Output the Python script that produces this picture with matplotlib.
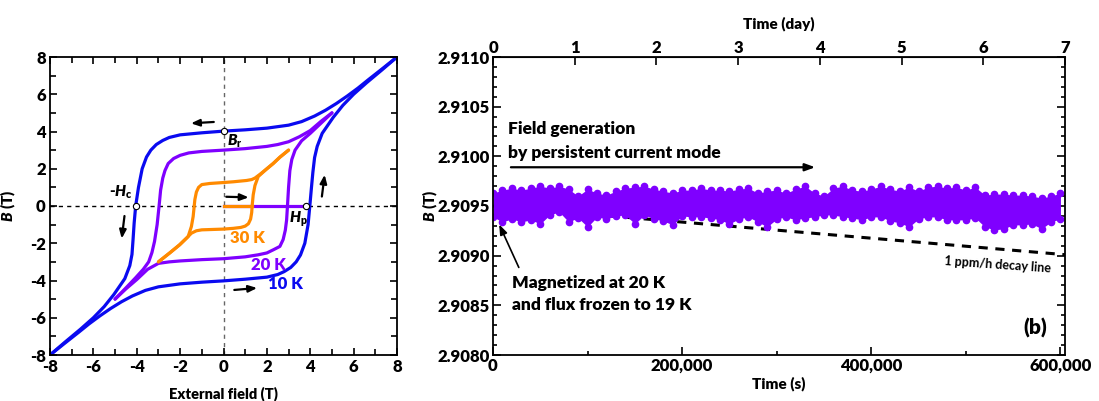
import matplotlib
matplotlib.use('Agg')
import matplotlib.pyplot as plt
from matplotlib.ticker import MultipleLocator, FixedLocator, FuncFormatter, FormatStrFormatter

plt.rcParams['font.family'] = 'Lato'
plt.rcParams['font.weight'] = 'heavy'
plt.rcParams['axes.labelweight'] = 'heavy'
plt.rcParams['axes.unicode_minus'] = False
plt.rcParams['mathtext.fontset'] = 'custom'
plt.rcParams['mathtext.rm'] = 'Lato:heavy'
plt.rcParams['mathtext.it'] = 'Lato:heavy:italic'

BLUE = '#0A0AF0'
PURPLE = '#7F00FF'
ORANGE = '#FF8A00'
W = 'heavy'

# ---- (a) hysteresis loops, B (T) vs external field (T)
blue_desc_H = [8.0, 7.3, 6.7, 6.2, 5.7, 5.2, 4.7, 4.2, 3.6, 3.0, 2.0, 1.0, 0.0, -1.0, -2.0, -2.5,
               -2.8, -3.1, -3.35, -3.55, -3.75, -3.92, -4.05, -4.12, -4.17, -4.22, -4.32, -4.55,
               -5.06, -5.5, -6.0, -6.6, -7.3, -8.0]
blue_desc_B = [8.0, 7.35, 6.8, 6.33, 5.9, 5.5, 5.14, 4.83, 4.53, 4.34, 4.18, 4.09, 4.02, 3.93, 3.82,
               3.68, 3.52, 3.3, 3.0, 2.63, 2.0, 1.0, 0.0, -0.92, -1.8, -2.6, -3.2, -3.9, -4.76,
               -5.4, -6.0, -6.62, -7.3, -8.0]
blue_asc_H = [-8.0, -7.3, -6.7, -6.2, -5.7, -5.2, -4.7, -4.2, -3.6, -3.0, -2.0, -1.0, 0.0, 1.0, 2.0,
              2.5, 2.8, 3.1, 3.35, 3.55, 3.75, 3.9, 3.98, 4.05, 4.12, 4.2, 4.32, 4.55, 5.06, 5.5,
              6.0, 6.6, 7.3, 8.0]
blue_asc_B = [-8.0, -7.35, -6.8, -6.33, -5.9, -5.5, -5.14, -4.83, -4.53, -4.34, -4.18, -4.09, -4.02,
              -3.93, -3.82, -3.68, -3.52, -3.3, -3.0, -2.63, -2.0, -1.0, 0.0, 0.92, 1.8, 2.6, 3.2,
              3.9, 4.76, 5.4, 6.0, 6.62, 7.3, 8.0]

purple_desc_H = [5.0, 4.5, 4.0, 3.5, 3.0, 2.5, 2.0, 1.0, 0.0, -1.0, -1.6, -2.0, -2.3, -2.55, -2.7,
                 -2.8, -2.9, -2.97, -3.06, -3.18, -3.3, -3.45, -3.7, -4.05, -4.5, -5.0]
purple_desc_B = [5.0, 4.55, 4.05, 3.72, 3.45, 3.3, 3.2, 3.08, 3.0, 2.93, 2.85, 2.72, 2.55, 2.28, 1.9,
                 1.5, 0.85, 0.0, -1.0, -1.9, -2.5, -3.0, -3.4, -3.85, -4.4, -5.0]
purple_asc_H = [-5.0, -4.5, -4.0, -3.5, -3.0, -2.5, -2.0, -1.0, 0.0, 1.0, 1.6, 2.0, 2.3, 2.6, 2.75,
                2.85, 2.91, 2.95, 3.0, 3.06, 3.15, 3.3, 3.6, 4.0, 4.5, 5.0]
purple_asc_B = [-5.0, -4.45, -3.95, -3.4, -3.08, -3.0, -2.95, -2.88, -2.83, -2.73, -2.62, -2.52, -2.35,
                -2.17, -1.8, -1.3, -0.75, 0.0, 1.0, 1.9, 2.5, 3.0, 3.5, 3.9, 4.45, 5.0]

orange_desc_H = [3.0, 2.6, 2.29, 2.0, 1.68, 1.45, 1.3, 1.06, 0.45, 0.0, -0.63, -1.0, -1.15, -1.25,
                 -1.32, -1.35, -1.4, -1.48, -1.63, -2.02, -2.48, -3.0]
orange_desc_B = [3.0, 2.62, 2.28, 2.0, 1.7, 1.5, 1.42, 1.37, 1.3, 1.26, 1.21, 1.15, 1.0, 0.75, 0.35,
                 0.0, -0.57, -1.1, -1.64, -2.08, -2.52, -3.0]
orange_asc_H = [-3.0, -2.48, -2.02, -1.7, -1.48, -1.25, -1.0, -0.5, 0.0, 0.45, 0.8, 1.0, 1.15, 1.25,
                1.3, 1.32, 1.37, 1.45, 1.6, 2.0, 2.29, 2.6, 3.0]
orange_asc_B = [-3.0, -2.52, -2.08, -1.72, -1.46, -1.33, -1.28, -1.26, -1.24, -1.2, -1.15, -1.08,
                -0.95, -0.7, -0.35, 0.0, 0.6, 1.1, 1.58, 2.0, 2.28, 2.62, 3.0]

virgin_20K_H = [0.0, 3.8]
virgin_30K_H = [0.0, 1.32]

Br = (0.0, 4.03)
Hc = (-4.05, 0.0)
Hp = (3.8, 0.0)

# ---- (b) persistent field vs time
time_s = [0, 10000, 20000, 30000, 40000, 50000, 60000, 70000, 80000, 90000, 100000, 110000, 120000,
          130000, 140000, 150000, 160000, 170000, 180000, 190000, 200000, 210000, 220000, 230000,
          240000, 250000, 260000, 270000, 280000, 290000, 300000, 310000, 320000, 330000, 340000,
          350000, 360000, 370000, 380000, 390000, 400000, 410000, 420000, 430000, 440000, 450000,
          460000, 470000, 480000, 490000, 500000, 510000, 520000, 530000, 540000, 550000, 560000,
          570000, 580000, 590000, 600000]
field_high = [2.90963, 2.90966, 2.90968, 2.90966, 2.90968, 2.90970, 2.90968, 2.90970, 2.90967, 2.90960,
              2.90967, 2.90963, 2.90961, 2.90965, 2.90968, 2.90969, 2.90970, 2.90967, 2.90965, 2.90963,
              2.90966, 2.90966, 2.90968, 2.90966, 2.90966, 2.90965, 2.90967, 2.90968, 2.90963, 2.90965,
              2.90966, 2.90963, 2.90967, 2.90970, 2.90963, 2.90960, 2.90968, 2.90970, 2.90966, 2.90965,
              2.90967, 2.90970, 2.90967, 2.90965, 2.90969, 2.90965, 2.90969, 2.90970, 2.90968, 2.90969,
              2.90966, 2.90969, 2.90961, 2.90962, 2.90962, 2.90961, 2.90961, 2.90960, 2.90958, 2.90960,
              2.90963]
field_low = [2.90939, 2.90934, 2.90937, 2.90934, 2.90936, 2.90932, 2.90941, 2.90944, 2.90934, 2.90938,
             2.90929, 2.90939, 2.90937, 2.90940, 2.90941, 2.90932, 2.90941, 2.90937, 2.90935, 2.90931,
             2.90940, 2.90939, 2.90939, 2.90938, 2.90936, 2.90932, 2.90937, 2.90939, 2.90934, 2.90929,
             2.90937, 2.90939, 2.90936, 2.90938, 2.90939, 2.90941, 2.90941, 2.90939, 2.90938, 2.90936,
             2.90939, 2.90939, 2.90935, 2.90933, 2.90929, 2.90937, 2.90939, 2.90939, 2.90936, 2.90936,
             2.90936, 2.90938, 2.90929, 2.90926, 2.90927, 2.90931, 2.90931, 2.90932, 2.90927, 2.90934,
             2.90937]
decay_t = [0, 604800]
decay_B = [2.90950, 2.90901]
day_ticks = [0, 1, 2, 3, 4, 5, 6, 7]

fig = plt.figure(figsize=(10.99, 4.01), dpi=100)
ax1 = fig.add_axes([50 / 1099, 46 / 401, 347 / 1099, 298 / 401])
ax2 = fig.add_axes([493 / 1099, 46 / 401, 572 / 1099, 298 / 401])

# ----- left panel
lw = 2.3
ax1.axvline(0, color='#666666', ls=(0, (3, 3)), lw=1, zorder=1)
ax1.axhline(0, color='black', ls=(0, (3, 3)), lw=1, zorder=1)
ax1.plot(blue_desc_H, blue_desc_B, color=BLUE, lw=lw, solid_capstyle='round', zorder=2)
ax1.plot(blue_asc_H, blue_asc_B, color=BLUE, lw=lw, solid_capstyle='round', zorder=2)
ax1.plot(purple_desc_H, purple_desc_B, color=PURPLE, lw=lw, solid_capstyle='round', zorder=3)
ax1.plot(purple_asc_H, purple_asc_B, color=PURPLE, lw=lw, solid_capstyle='round', zorder=3)
ax1.plot(virgin_20K_H, [0, 0], color=PURPLE, lw=lw, zorder=3)
ax1.plot(orange_desc_H, orange_desc_B, color=ORANGE, lw=lw, solid_capstyle='round', zorder=4)
ax1.plot(orange_asc_H, orange_asc_B, color=ORANGE, lw=lw, solid_capstyle='round', zorder=4)
ax1.plot(virgin_30K_H, [0, 0], color=ORANGE, lw=lw, zorder=4)
for pt in (Br, Hc, Hp):
    ax1.plot(*pt, 'o', ms=4.5, mfc='white', mec='black', mew=0.8, zorder=6)

arrow_kw = dict(arrowstyle='-|>,head_length=0.5,head_width=0.2', color='black', lw=1.6)
ax1.annotate('', xy=(-1.63, 4.43), xytext=(-0.32, 4.52), arrowprops=arrow_kw)
ax1.annotate('', xy=(4.68, 1.83), xytext=(4.52, 0.36), arrowprops=arrow_kw)
ax1.annotate('', xy=(-4.71, -1.9), xytext=(-4.55, -0.39), arrowprops=arrow_kw)
ax1.annotate('', xy=(1.68, -4.39), xytext=(0.37, -4.52), arrowprops=arrow_kw)
ax1.annotate('', xy=(1.29, 0.46), xytext=(0.0, 0.5), arrowprops=arrow_kw)

ax1.text(0.3, -1.72, '30 K', color=ORANGE, fontsize=12, fontweight=W, va='center')
ax1.text(1.29, -3.15, '20 K', color=PURPLE, fontsize=12, fontweight=W, va='center')
ax1.text(2.06, -4.2, '10 K', color=BLUE, fontsize=12, fontweight=W, va='center')
ax1.text(-4.2, 0.72, r'-$H_\mathrm{c}$', fontsize=11, fontweight=W, ha='right', va='center')
ax1.text(0.15, 3.45, r'$B_\mathrm{r}$', fontsize=11, va='center')
ax1.text(3.03, -0.7, r'$H_\mathrm{p}$', fontsize=11, va='center')

ax1.set_xlim(-8, 8)
ax1.set_ylim(-8, 8)
ax1.xaxis.set_major_locator(MultipleLocator(2))
ax1.xaxis.set_minor_locator(MultipleLocator(1))
ax1.yaxis.set_major_locator(MultipleLocator(2))
ax1.yaxis.set_minor_locator(MultipleLocator(1))
ax1.tick_params(which='both', direction='in', top=True, right=True, labelsize=12, width=1.2, pad=3)
ax1.tick_params(which='major', length=5)
ax1.tick_params(which='minor', length=4)
ax1.set_xlabel('External field (T)', fontsize=10.5, fontweight=W, labelpad=8)
ax1.set_ylabel(r'$B$ (T)', fontsize=11, fontweight=W)
ax1.yaxis.set_label_coords(-0.092, 0.5)

# ----- right panel
ax2.plot(decay_t, decay_B, color='black', ls=(0, (3, 2.5)), lw=2.2, zorder=1)
ax2.fill_between(time_s, field_low, field_high, color=PURPLE, lw=0, zorder=2)
ax2.plot(time_s, field_high, 'o', color=PURPLE, ms=4.5, zorder=2)
ax2.plot(time_s, field_low, 'o', color=PURPLE, ms=4.5, zorder=2)

ax2.text(16000, 2.91028, 'Field generation', fontsize=12.5, fontweight=W, va='center')
ax2.text(16000, 2.91003, 'by persistent current mode', fontsize=12.5, fontweight=W, va='center')
ax2.annotate('', xy=(343600, 2.90989), xytext=(16000, 2.90989),
             arrowprops=dict(arrowstyle='-|>,head_length=0.6,head_width=0.22', color='black', lw=1.6))
ax2.text(20000, 2.908725, 'Magnetized at 20 K', fontsize=12.5, fontweight=W, va='center')
ax2.text(20000, 2.908503, 'and flux frozen to 19 K', fontsize=12.5, fontweight=W, va='center')
ax2.annotate('', xy=(5300, 2.90934), xytext=(28500, 2.908856),
             arrowprops=dict(arrowstyle='-|>,head_length=0.6,head_width=0.22', color='black', lw=1.2))
ax2.text(534000, 2.908905, '1 ppm/h decay line', fontsize=9, fontweight='bold', ha='center',
         va='center', rotation=-4)
ax2.text(573000, 2.90827, '(b)', fontsize=15, fontweight=W, ha='center', va='center')

ax2.set_xlim(0, 604800)
ax2.set_ylim(2.9080, 2.9110)
ax2.xaxis.set_major_locator(MultipleLocator(200000))
ax2.xaxis.set_minor_locator(MultipleLocator(100000))
ax2.xaxis.set_major_formatter(FuncFormatter(lambda v, p: f'{int(v):,}'))
ax2.yaxis.set_major_locator(MultipleLocator(0.0005))
ax2.yaxis.set_minor_locator(MultipleLocator(0.0001))
ax2.yaxis.set_major_formatter(FormatStrFormatter('%.4f'))
ax2.tick_params(which='both', direction='in', right=True, labelsize=12, width=1.2, pad=2)
ax2.tick_params(which='major', length=6)
ax2.tick_params(which='minor', length=3)
ax2.set_xlabel('Time (s)', fontsize=11, fontweight=W, labelpad=2)
ax2.set_ylabel(r'$B$ (T)', fontsize=11, fontweight=W)
ax2.yaxis.set_label_coords(-0.092, 0.5)

top = ax2.secondary_xaxis('top', functions=(lambda s: s / 86400, lambda d: d * 86400))
top.xaxis.set_major_locator(FixedLocator(day_ticks))
top.tick_params(direction='in', labelsize=12, length=6, width=1.2, pad=1)
top.set_xlabel('Time (day)', fontsize=11, fontweight=W, labelpad=8)

for ax in (ax1, ax2, top):
    for lab in ax.get_xticklabels() + ax.get_yticklabels():
        lab.set_fontweight(W)
for ax in (ax1, ax2):
    for s in ax.spines.values():
        s.set_linewidth(1.3)

fig.savefig('out.png', dpi=100)
